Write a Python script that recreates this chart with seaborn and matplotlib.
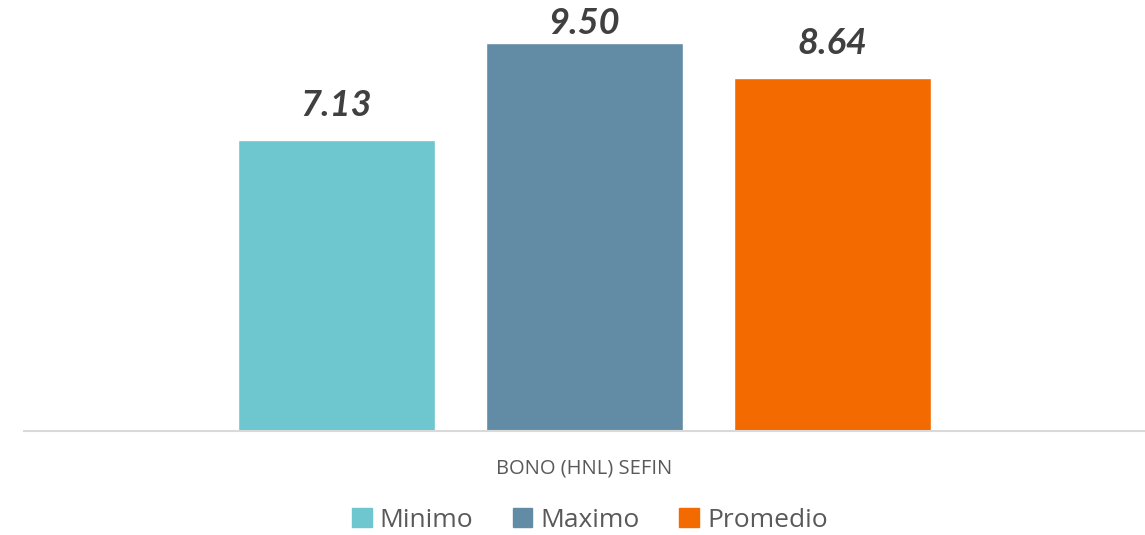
import matplotlib
matplotlib.use("Agg")
import matplotlib.pyplot as plt
import seaborn as sns
import pandas as pd

# Data
category = ["BONO (HNL) SEFIN"]
series = ["Minimo", "Maximo", "Promedio"]
values = [7.13, 9.50, 8.64]
colors = ["#6EC6CE", "#628CA5", "#F26A00"]

sns.set_theme(style="white")
plt.rcParams["font.family"] = ["Open Sans", "DejaVu Sans"]

df = pd.DataFrame({
    "cat": category * len(series),
    "serie": series,
    "valor": values,
})

fig = plt.figure(figsize=(11.45, 5.35), dpi=100)
ax = fig.add_axes([0.021, 0.194, 0.979, 0.804])

sns.barplot(data=df, x="cat", y="valor", hue="serie", hue_order=series,
            palette=colors, width=0.664, gap=0.206, saturation=1,
            legend=False, ax=ax)

ymax = 10.52
for cont in ax.containers:
    h = cont.datavalues[0]
    # the tallest label is pushed down so it stays inside the plot area
    pad = 2 if h > ymax - 1.3 else 13
    ax.bar_label(cont, fmt="%.2f", padding=pad, fontsize=26,
                 fontweight="bold", fontstyle="italic", color="#404040",
                 family=["Lato", "DejaVu Sans"])

ax.set_ylim(0, ymax)
ax.set_xlim(-0.5, 0.5)
ax.set_yticks([])
ax.set_xlabel("")
ax.set_ylabel("")
for side in ["top", "right", "left"]:
    ax.spines[side].set_visible(False)
ax.spines["bottom"].set_color("#D9D9D9")
ax.spines["bottom"].set_linewidth(1.5)
ax.tick_params(axis="x", length=0, pad=20, labelsize=14.5, labelcolor="#595959")

handles = [plt.Rectangle((0, 0), 1, 1, color=c) for c in colors]
fig.legend(handles, series, loc="center", bbox_to_anchor=(0.515, 0.028),
           ncol=3, frameon=False, fontsize=19, handlelength=0.75,
           handleheight=0.75, handletextpad=0.3, columnspacing=1.5,
           labelcolor="#595959")

fig.savefig("out.png", dpi=100)
